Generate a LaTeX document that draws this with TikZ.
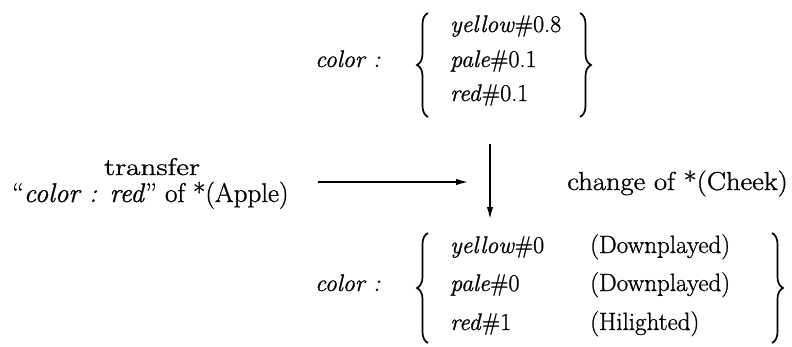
\documentclass[tikz,border=0pt]{standalone}
\usepackage{fontspec}
\usepackage{graphicx}
\setmainfont{Latin Modern Roman}[FakeBold=1]
\usetikzlibrary{arrows.meta,decorations.pathreplacing}
\begin{document}
\begin{tikzpicture}[x=1pt,y=-1pt,
  txt/.style={inner sep=0pt, anchor=base west, font=\fontsize{24}{28}\selectfont},
  big/.style={txt, font=\fontsize{27}{32}\selectfont},
  brc/.style={decorate, decoration={brace, amplitude=11pt}, line width=1.7pt},
  arr/.style={line width=1.6pt, -{Latex[length=12pt,width=6.5pt]}}]
\useasboundingbox (0,0) rectangle (792,346);
% top group
\node[txt] (c1) at (315,67) {\textit{color :}};
\node[txt] (t1) at (450,32) {\textit{yellow}\#0.8};
\node[txt] (t2) at (450,67) {\textit{pale}\#0.1};
\node[txt] (t3) at (450,101) {\textit{red}\#0.1};
\coordinate (lb1b) at (428,117);
\coordinate (lb1t) at (428,13);
\coordinate (rb1t) at (580,13);
\coordinate (rb1b) at (580,117);
\draw[brc] (lb1b) -- (lb1t);
\draw[brc] (rb1t) -- (rb1b);
% middle
\node[txt, anchor=base] (tr) at (152,175) {\scalebox{1.3}[1]{transfer}};
\node[big] (l2) at (12,202) {“\textit{color : red}” of *(Apple)};
\node[txt, anchor=base east, font=\fontsize{26}{30}\selectfont] (ch) at (788,190) {\scalebox{1.1}[1]{change of *(Cheek)}};
\coordinate (hs) at (318,182);
\coordinate (he) at (468,182);
\coordinate (vs) at (490,144);
\coordinate (ve) at (490,219);
\draw[arr] (hs) -- (he);
\draw[arr] (vs) -- (ve);
% bottom group
\node[txt] (c2) at (315,291) {\textit{color :}};
\node[txt] (b1) at (450,253) {\textit{yellow}\#0};
\node[txt] (b2) at (450,291) {\textit{pale}\#0};
\node[txt] (b3) at (450,330) {\textit{red}\#1};
\node[txt, font=\fontsize{25}{30}\selectfont] (d1) at (590,253) {(Downplayed)};
\node[txt, font=\fontsize{25}{30}\selectfont] (d2) at (590,291) {(Downplayed)};
\node[txt, font=\fontsize{25}{30}\selectfont] (d3) at (590,330) {(Hilighted)};
\coordinate (lb2b) at (428,343);
\coordinate (lb2t) at (428,233);
\coordinate (rb2t) at (772,233);
\coordinate (rb2b) at (772,343);
\draw[brc] (lb2b) -- (lb2t);
\draw[brc] (rb2t) -- (rb2b);
\end{tikzpicture}
\end{document}
